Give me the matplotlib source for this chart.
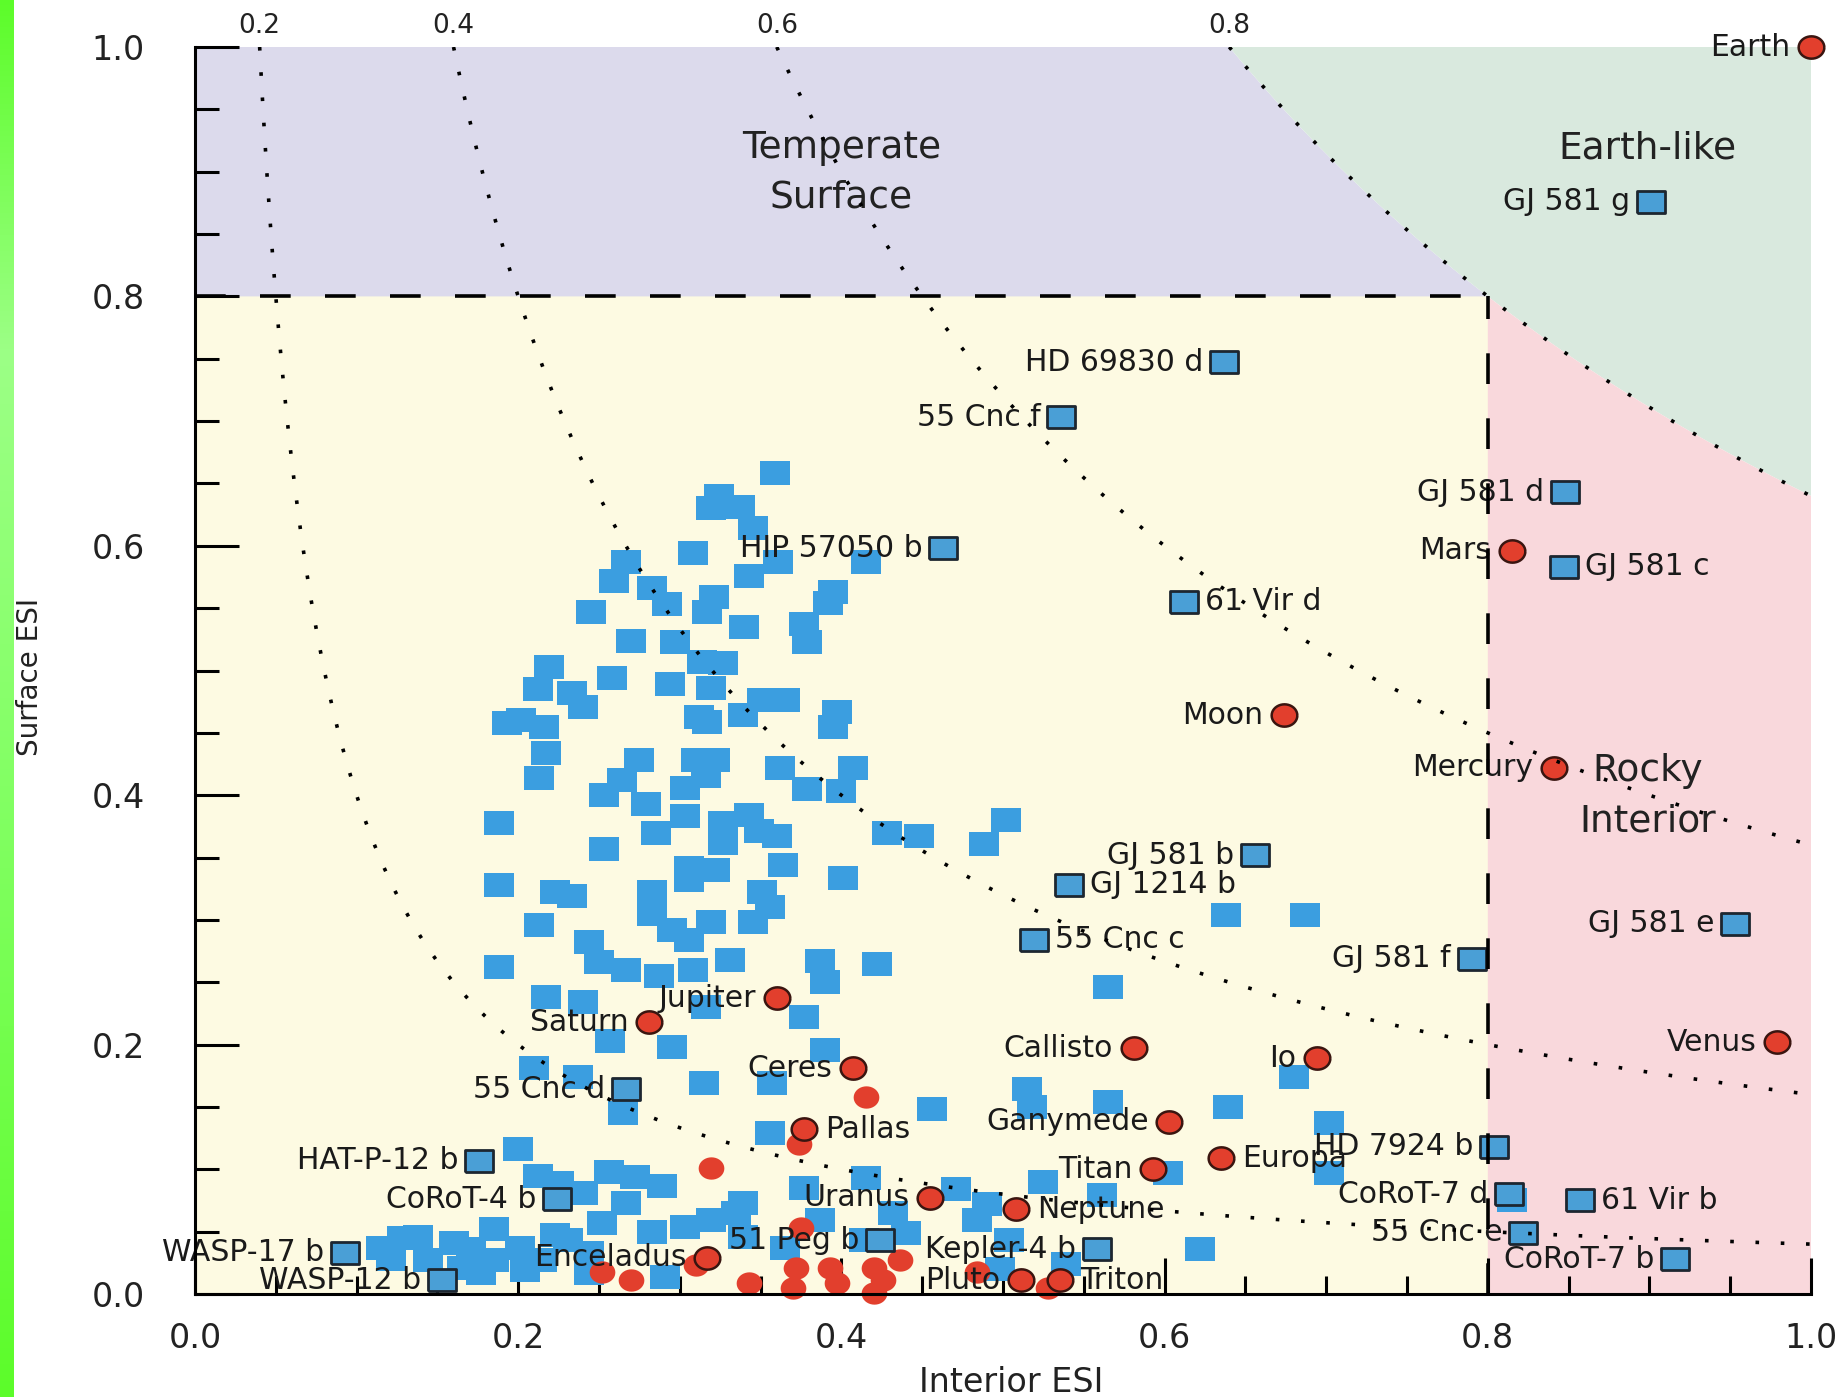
import numpy as np
import matplotlib
matplotlib.use("Agg")
import matplotlib.pyplot as plt
from matplotlib.ticker import MultipleLocator, FormatStrFormatter

plt.rcParams['font.family'] = ['DejaVu Sans']

# ---------------- data ----------------
iso_esi_levels = [0.2, 0.4, 0.6, 0.8]
threshold = 0.8

exo_names = ["GJ 581 g", "HD 69830 d", "55 Cnc f", "GJ 581 d", "GJ 581 c", "HIP 57050 b",
             "61 Vir d", "GJ 581 b", "GJ 1214 b", "55 Cnc c", "GJ 581 f", "GJ 581 e",
             "55 Cnc d", "HAT-P-12 b", "CoRoT-4 b", "WASP-17 b", "WASP-12 b", "51 Peg b",
             "Kepler-4 b", "HD 7924 b", "CoRoT-7 d", "61 Vir b", "55 Cnc e", "CoRoT-7 b"]
exo_interior = [0.901, 0.637, 0.536, 0.848, 0.847, 0.463, 0.612, 0.656, 0.541, 0.519, 0.790, 0.953,
                0.267, 0.176, 0.224, 0.093, 0.153, 0.424, 0.558, 0.804, 0.813, 0.857, 0.822, 0.916]
exo_surface = [0.876, 0.747, 0.703, 0.643, 0.583, 0.598, 0.555, 0.352, 0.328, 0.284, 0.269, 0.297,
               0.164, 0.107, 0.076, 0.033, 0.011, 0.043, 0.036, 0.118, 0.080, 0.075, 0.049, 0.028]

sol_names = ["Earth", "Mars", "Moon", "Mercury", "Venus", "Jupiter", "Saturn", "Ceres", "Callisto",
             "Io", "Pallas", "Ganymede", "Europa", "Titan", "Uranus", "Neptune", "Enceladus",
             "Pluto", "Triton"]
sol_interior = [1.0, 0.815, 0.674, 0.841, 0.979, 0.360, 0.281, 0.407, 0.581, 0.694, 0.377, 0.603,
                0.635, 0.593, 0.455, 0.508, 0.317, 0.511, 0.535]
sol_surface = [1.0, 0.596, 0.464, 0.422, 0.202, 0.237, 0.218, 0.181, 0.197, 0.189, 0.132, 0.138,
               0.109, 0.100, 0.077, 0.068, 0.029, 0.011, 0.011]

right_labeled = ["GJ 581 c", "61 Vir d", "GJ 1214 b", "55 Cnc c", "61 Vir b",
                 "Pallas", "Europa", "Neptune", "Triton"]

other_exo_interior = [
    0.359, 0.324, 0.319, 0.337, 0.345, 0.308, 0.361, 0.343, 0.415, 0.267, 0.259, 0.283, 0.292, 0.321,
    0.317, 0.245, 0.340, 0.395, 0.392, 0.377, 0.379, 0.270, 0.297, 0.314, 0.327, 0.258, 0.294, 0.319,
    0.233, 0.240, 0.312, 0.317, 0.339, 0.351, 0.365, 0.397, 0.395, 0.275, 0.310, 0.322, 0.219, 0.212,
    0.193, 0.216, 0.217, 0.213, 0.188, 0.188, 0.223, 0.213, 0.188, 0.217, 0.210, 0.202, 0.362, 0.407,
    0.264, 0.253, 0.279, 0.303, 0.316, 0.379, 0.400, 0.303, 0.285, 0.327, 0.343, 0.349, 0.360, 0.327,
    0.428, 0.448, 0.253, 0.364, 0.401, 0.306, 0.322, 0.306, 0.283, 0.233, 0.351, 0.356, 0.283, 0.319,
    0.345, 0.295, 0.306, 0.244, 0.250, 0.267, 0.287, 0.308, 0.331, 0.387, 0.422, 0.390, 0.240, 0.316,
    0.377, 0.257, 0.295, 0.390, 0.315, 0.237, 0.357, 0.265, 0.456, 0.356, 0.256, 0.272, 0.289, 0.240,
    0.267, 0.339, 0.377, 0.415, 0.252, 0.283, 0.303, 0.319, 0.335, 0.339, 0.387, 0.432, 0.440, 0.365,
    0.244, 0.231, 0.244, 0.291, 0.414, 0.471, 0.200, 0.212, 0.225, 0.115, 0.138, 0.160, 0.185, 0.185,
    0.144, 0.165, 0.177, 0.215, 0.128, 0.171, 0.201, 0.223, 0.121, 0.204, 0.502, 0.488, 0.638, 0.687,
    0.565, 0.515, 0.518, 0.565, 0.639, 0.702, 0.680, 0.702, 0.490, 0.484, 0.525, 0.561, 0.602, 0.504,
    0.622, 0.498, 0.539, 0.815]
other_exo_surface = [
    0.658, 0.640, 0.630, 0.631, 0.614, 0.594, 0.587, 0.576, 0.587, 0.587, 0.572, 0.566, 0.553, 0.559,
    0.547, 0.547, 0.535, 0.563, 0.554, 0.537, 0.523, 0.524, 0.523, 0.507, 0.506, 0.494, 0.489, 0.486,
    0.482, 0.471, 0.463, 0.459, 0.464, 0.476, 0.476, 0.467, 0.455, 0.428, 0.428, 0.428, 0.503, 0.485,
    0.458, 0.455, 0.434, 0.414, 0.378, 0.328, 0.322, 0.296, 0.262, 0.238, 0.181, 0.460, 0.422, 0.422,
    0.412, 0.400, 0.393, 0.406, 0.415, 0.405, 0.403, 0.383, 0.370, 0.378, 0.384, 0.371, 0.367, 0.362,
    0.370, 0.367, 0.357, 0.344, 0.334, 0.342, 0.340, 0.332, 0.322, 0.319, 0.322, 0.310, 0.305, 0.298,
    0.298, 0.292, 0.284, 0.282, 0.266, 0.260, 0.255, 0.260, 0.268, 0.267, 0.265, 0.250, 0.234, 0.230,
    0.222, 0.203, 0.198, 0.196, 0.169, 0.174, 0.169, 0.145, 0.148, 0.129, 0.098, 0.094, 0.087, 0.081,
    0.073, 0.073, 0.085, 0.093, 0.057, 0.050, 0.054, 0.059, 0.065, 0.046, 0.059, 0.065, 0.049, 0.037,
    0.033, 0.043, 0.017, 0.014, 0.043, 0.084, 0.116, 0.095, 0.089, 0.037, 0.046, 0.041, 0.052, 0.027,
    0.027, 0.021, 0.017, 0.027, 0.045, 0.036, 0.037, 0.047, 0.028, 0.019, 0.380, 0.361, 0.304, 0.304,
    0.246, 0.164, 0.150, 0.154, 0.150, 0.137, 0.174, 0.097, 0.072, 0.059, 0.090, 0.079, 0.097, 0.043,
    0.036, 0.020, 0.024, 0.075]

other_sol_interior = [0.415, 0.319, 0.374, 0.375, 0.270, 0.310, 0.343, 0.372, 0.370, 0.393, 0.397,
                      0.420, 0.426, 0.436, 0.420, 0.252, 0.484, 0.528]
other_sol_surface = [0.158, 0.101, 0.120, 0.053, 0.011, 0.023, 0.009, 0.021, 0.005, 0.021, 0.009,
                     0.021, 0.011, 0.027, 0.001, 0.018, 0.018, 0.005]

region_labels = ["Temperate\nSurface", "Earth-like", "Rocky\nInterior"]
region_label_x = [0.400, 0.899, 0.899]
region_label_y = [0.899, 0.919, 0.399]

# ---------------- styling ----------------
W, H = 1845, 1397
C_PURPLE = "#dcdaec"
C_YELLOW = "#fdfae2"
C_GREEN = "#d9e9de"
C_PINK = "#f9d8dc"
C_BLUE = "#3b9ee0"
C_BLUE_LAB = "#4a9fd6"
C_RED = "#e23f2d"
C_EDGE = "#1d2630"
C_TEXT = "#1a1a1a"

rect_marker = [(-1.25, -1.0), (1.25, -1.0), (1.25, 1.0), (-1.25, 1.0), (-1.25, -1.0)]
th = np.linspace(0, 2 * np.pi, 41)
ell_marker = list(zip(1.15 * np.cos(th), 1.0 * np.sin(th)))

fig = plt.figure(figsize=(W / 100, H / 100), dpi=100)

# green strip on the left edge
gax = fig.add_axes([0, 0, 14 / W, 1])
grad = np.linspace(0, 1, 256).reshape(-1, 1)
cmap = matplotlib.colors.LinearSegmentedColormap.from_list(
    "g", [(0.0, "#5cfc2a"), (0.25, "#9cff86"), (0.6, "#80ff60"), (1.0, "#5cfc2a")])
gax.imshow(grad, aspect="auto", cmap=cmap, extent=[0, 1, 0, 1], origin="upper")
gax.axis("off")

ax = fig.add_axes([195 / W, 1 - 1294 / H, (1811 - 195) / W, (1294 - 47) / H])
ax.set_xlim(0, 1)
ax.set_ylim(0, 1)
ax.patch.set_alpha(0)

t2 = threshold ** 2
# regions
ax.fill([0, threshold, threshold, 0], [0, 0, threshold, threshold], color=C_YELLOW, lw=0, zorder=0)
yy = np.linspace(threshold, 1, 100)
ax.fill(np.r_[0, t2 / yy, 0], np.r_[threshold, yy, 1], color=C_PURPLE, lw=0, zorder=0)
xx = np.linspace(t2, 1, 200)
ax.fill(np.r_[xx, 1], np.r_[t2 / xx, 1], color=C_GREEN, lw=0, zorder=0)
xx2 = np.linspace(1, threshold, 100)
ax.fill(np.r_[threshold, 1, xx2], np.r_[0, 0, t2 / xx2], color=C_PINK, lw=0, zorder=0)

# iso-ESI curves
for e in iso_esi_levels:
    x = np.linspace(e ** 2, 1, 600)
    ax.plot(x, e ** 2 / x, color="black", lw=2.6, dashes=(1, 6), zorder=6)
    ax.text(e ** 2, 1.017, f"{e:.1f}", ha="center", va="center", fontsize=19,
            color="#222222", clip_on=False)

# threshold dashed lines
ax.plot([0, threshold], [threshold, threshold], color="black", lw=2.6, dashes=(8.5, 9.5), zorder=6)
ax.plot([threshold, threshold], [0, threshold], color="black", lw=2.6, dashes=(8.5, 9.5), zorder=6)

# points
ax.scatter(other_exo_interior, other_exo_surface, marker=rect_marker, s=21 ** 2,
           color=C_BLUE, lw=0, zorder=2, clip_on=False)
ax.scatter(other_sol_interior, other_sol_surface, marker=ell_marker, s=18.5 ** 2,
           color=C_RED, lw=0, zorder=2, clip_on=False)
ax.scatter(exo_interior, exo_surface, marker=rect_marker, s=20 ** 2,
           facecolor=C_BLUE_LAB, edgecolor=C_EDGE, lw=2.0, zorder=3, clip_on=False)
ax.scatter(sol_interior, sol_surface, marker=ell_marker, s=18.5 ** 2,
           facecolor=C_RED, edgecolor="#3a1510", lw=1.8, zorder=3, clip_on=False)

for names, xs, ys in [(exo_names, exo_interior, exo_surface), (sol_names, sol_interior, sol_surface)]:
    for n, x, y in zip(names, xs, ys):
        if n in right_labeled:
            ax.annotate(n, (x, y), xytext=(15, 0), textcoords="offset points", ha="left",
                        va="center", fontsize=21.5, color=C_TEXT, zorder=5)
        else:
            ax.annotate(n, (x, y), xytext=(-15, 0), textcoords="offset points", ha="right",
                        va="center", fontsize=21.5, color=C_TEXT, zorder=5)

for lab, x, y in zip(region_labels, region_label_x, region_label_y):
    ax.text(x, y, lab, ha="center", va="center", fontsize=27, color="#222222",
            linespacing=1.5, zorder=5)

# axes styling
for s in ["top", "right"]:
    ax.spines[s].set_visible(False)
for s in ["left", "bottom"]:
    ax.spines[s].set_linewidth(2.2)
    ax.spines[s].set_zorder(7)
ax.xaxis.set_major_locator(MultipleLocator(0.2))
ax.xaxis.set_minor_locator(MultipleLocator(0.05))
ax.yaxis.set_major_locator(MultipleLocator(0.2))
ax.yaxis.set_minor_locator(MultipleLocator(0.05))
ax.xaxis.set_major_formatter(FormatStrFormatter("%.1f"))
ax.yaxis.set_major_formatter(FormatStrFormatter("%.1f"))
ax.tick_params(axis="y", which="major", direction="in", length=32, width=2.2, pad=36,
               labelsize=24, labelcolor="#222222")
ax.tick_params(axis="y", which="minor", direction="in", length=17, width=2.2)
ax.tick_params(axis="x", which="major", direction="in", length=26, width=2.2, pad=20,
               labelsize=24, labelcolor="#222222")
ax.tick_params(axis="x", which="minor", direction="in", length=13, width=2.2)
for t in ax.xaxis.get_major_ticks() + ax.xaxis.get_minor_ticks() + \
        ax.yaxis.get_major_ticks() + ax.yaxis.get_minor_ticks():
    t.tick1line.set_zorder(7)

ax.set_xlabel("Interior ESI", fontsize=24, color="#222222")
ax.set_ylabel("Surface ESI", fontsize=20, color="#222222")
ax.xaxis.label.set_va("center")
ax.yaxis.label.set_va("center")
ax.xaxis.set_label_coords(0.505, -0.071)
ax.yaxis.set_label_coords(-0.102, 0.495)

fig.savefig("out.png", dpi=100, facecolor="white")
